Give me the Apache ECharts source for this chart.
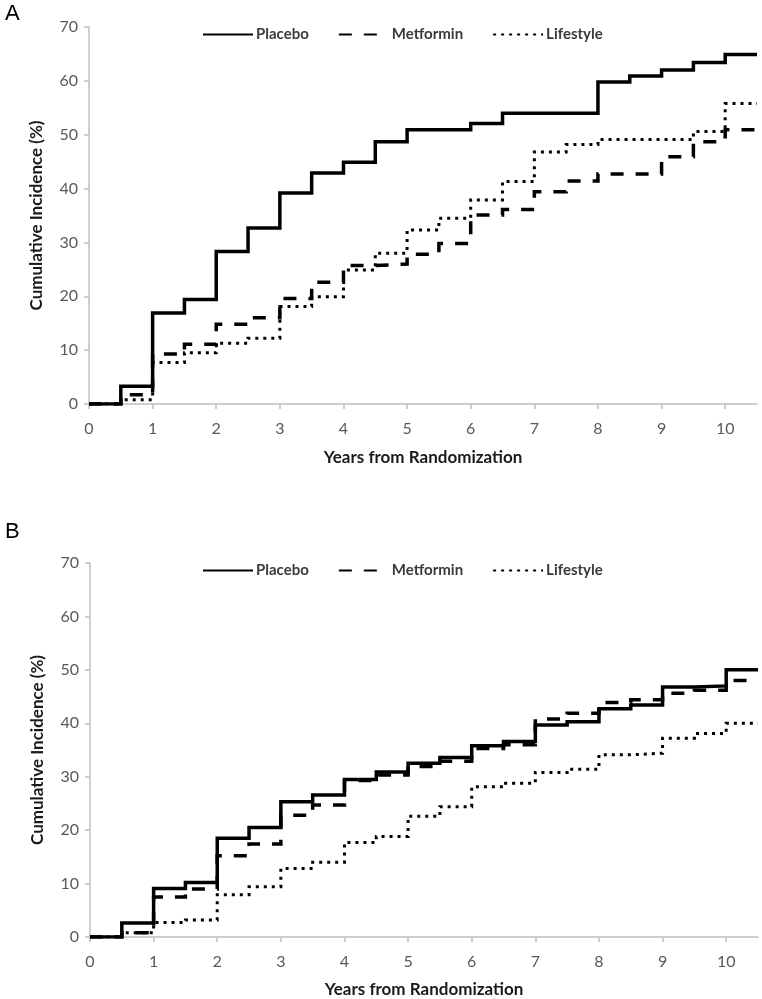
<!DOCTYPE html>
<html>
<head>
<meta charset="utf-8">
<script src="https://cdn.jsdelivr.net/npm/echarts@6/dist/echarts.min.js"></script>
<style>
html,body{margin:0;padding:0;background:#fff;}
#chart{width:762px;height:999px;}
</style>
</head>
<body>
<div id="chart"></div>
<script>
// Time points (years); each value holds from its time until the next one
const years = [0, 0.5, 1, 1.5, 2, 2.5, 3, 3.5, 4, 4.5, 5, 5.5, 6, 6.5, 7, 7.5, 8, 8.5, 9, 9.5, 10, 10.5];
const xTicks = ['0','1','2','3','4','5','6','7','8','9','10'];
const yTicks = ['0','10','20','30','40','50','60','70'];
const seriesNames = ['Placebo', 'Metformin', 'Lifestyle'];
const panelLabels = ['A', 'B'];
const xTitle = 'Years from Randomization';
const yTitle = 'Cumulative Incidence (%)';

// Panel A
const placeboA   = [0, 3.3, 16.9, 19.4, 28.3, 32.7, 39.2, 42.9, 44.9, 48.7, 50.9, 50.9, 52.1, 54.0, 54.0, 54.0, 59.8, 60.9, 62.0, 63.4, 64.9];
const metforminA = [0, 1.7, 9.3, 11.1, 14.8, 16.0, 19.6, 22.6, 25.7, 26.0, 27.8, 29.8, 35.1, 36.1, 39.4, 41.4, 42.7, 42.7, 45.9, 48.7, 50.9];
const lifestyleA = [0, 0.8, 7.7, 9.5, 11.3, 12.2, 18.1, 19.9, 24.9, 28.0, 32.3, 34.5, 37.9, 41.3, 46.8, 48.2, 49.1, 49.1, 49.1, 50.6, 55.8];

// Panel B
const placeboB   = [0, 2.6, 9.1, 10.2, 18.5, 20.5, 25.3, 26.6, 29.5, 30.9, 32.5, 33.6, 35.8, 36.6, 39.7, 40.3, 42.7, 43.4, 46.8, 47.0, 50.0];
const metforminB = [0, 0.8, 7.5, 9.0, 15.2, 17.4, 22.8, 24.7, 29.3, 30.3, 31.9, 32.9, 35.3, 36.0, 40.8, 41.9, 43.9, 44.4, 45.6, 46.2, 48.0];
const lifestyleB = [0, 0.8, 2.7, 3.2, 7.9, 9.4, 12.8, 14.0, 17.7, 18.8, 22.6, 24.4, 28.1, 28.8, 30.8, 31.4, 34.1, 34.4, 37.2, 38.1, 40.0];

function toSteps(vals) {
  return years.map((x, i) => [x, vals[Math.min(i, vals.length - 1)]]);
}

const FONT = 'Lato, "Open Sans", sans-serif';
const styles = {
  Placebo:   {type: 'solid', width: 3.5},
  Metformin: {type: [13, 12], width: 3.5},
  Lifestyle: {type: [3, 5], width: 3}
};

const grids = [
  {left: 89, right: 5, top: 27, height: 377},
  {left: 90, right: 4, top: 563, height: 374}
];

function xAxisDef(gi, gap) {
  return {
    type: 'value', gridIndex: gi, min: 0, max: 10.5, interval: 1,
    name: xTitle, nameLocation: 'middle', nameGap: gap,
    nameTextStyle: {fontFamily: FONT, fontSize: 17, fontWeight: 'bold', color: '#1a1a1a'},
    axisLine: {show: true, lineStyle: {color: '#bfbfbf', width: 1.5}},
    axisTick: {show: true, length: 5, lineStyle: {color: '#bfbfbf', width: 1.5}},
    axisLabel: {
      fontFamily: FONT, fontSize: 16, color: '#595959', margin: 17,
      showMaxLabel: false,
      formatter: v => (Number.isInteger(v) && xTicks.indexOf(String(v)) >= 0) ? String(v) : ''
    },
    splitLine: {show: false}
  };
}
function yAxisDef(gi) {
  return {
    type: 'value', gridIndex: gi, min: 0, max: 70, interval: 10,
    name: yTitle, nameLocation: 'middle', nameGap: 44,
    nameTextStyle: {fontFamily: FONT, fontSize: 17, fontWeight: 'bold', color: '#1a1a1a'},
    axisLine: {show: true, lineStyle: {color: '#bfbfbf', width: 1.5}},
    axisTick: {show: true, length: 5, lineStyle: {color: '#bfbfbf', width: 1.5}},
    axisLabel: {
      fontFamily: FONT, fontSize: 16, color: '#595959', margin: 11,
      formatter: v => yTicks.indexOf(String(v)) >= 0 ? String(v) : ''
    },
    splitLine: {show: false}
  };
}

function mkSeries(name, vals, gi) {
  const s = styles[name];
  return {
    name: name, type: 'line', step: 'end', xAxisIndex: gi, yAxisIndex: gi,
    data: toSteps(vals), symbol: 'none', showSymbol: false,
    lineStyle: {color: '#000', width: s.width, type: s.type, cap: 'butt', join: 'miter'},
    itemStyle: {color: '#000'},
    animation: false, z: 3
  };
}

function legendDef(top) {
  return {
    data: seriesNames, left: 197, top: top, itemWidth: 50, itemHeight: 10, itemGap: 29,
    itemStyle: {color: 'rgba(0,0,0,0)', borderWidth: 0, opacity: 0},
    textStyle: {fontFamily: FONT, fontSize: 15, fontWeight: 'bold', color: '#3a3a3a', padding: [0, 0, 0, -2]},
    selectedMode: false
  };
}

const chart = echarts.init(document.getElementById('chart'), null, {renderer: 'canvas'});
chart.setOption({
  backgroundColor: '#fff',
  animation: false,
  title: [
    {text: panelLabels[0], left: 5, top: 3, textStyle: {fontFamily: 'Liberation Sans, Arial, sans-serif', fontSize: 22, fontWeight: 'normal', color: '#000'}, padding: 0},
    {text: panelLabels[1], left: 5, top: 521, textStyle: {fontFamily: 'Liberation Sans, Arial, sans-serif', fontSize: 22, fontWeight: 'normal', color: '#000'}, padding: 0}
  ],
  legend: [legendDef(22), legendDef(558)],
  grid: grids,
  xAxis: [xAxisDef(0, 45), xAxisDef(1, 44)],
  yAxis: [yAxisDef(0), yAxisDef(1)],
  series: [
    mkSeries('Placebo', placeboA, 0),
    mkSeries('Metformin', metforminA, 0),
    mkSeries('Lifestyle', lifestyleA, 0),
    mkSeries('Placebo', placeboB, 1),
    mkSeries('Metformin', metforminB, 1),
    mkSeries('Lifestyle', lifestyleB, 1)
  ]
});
</script>
</body>
</html>
